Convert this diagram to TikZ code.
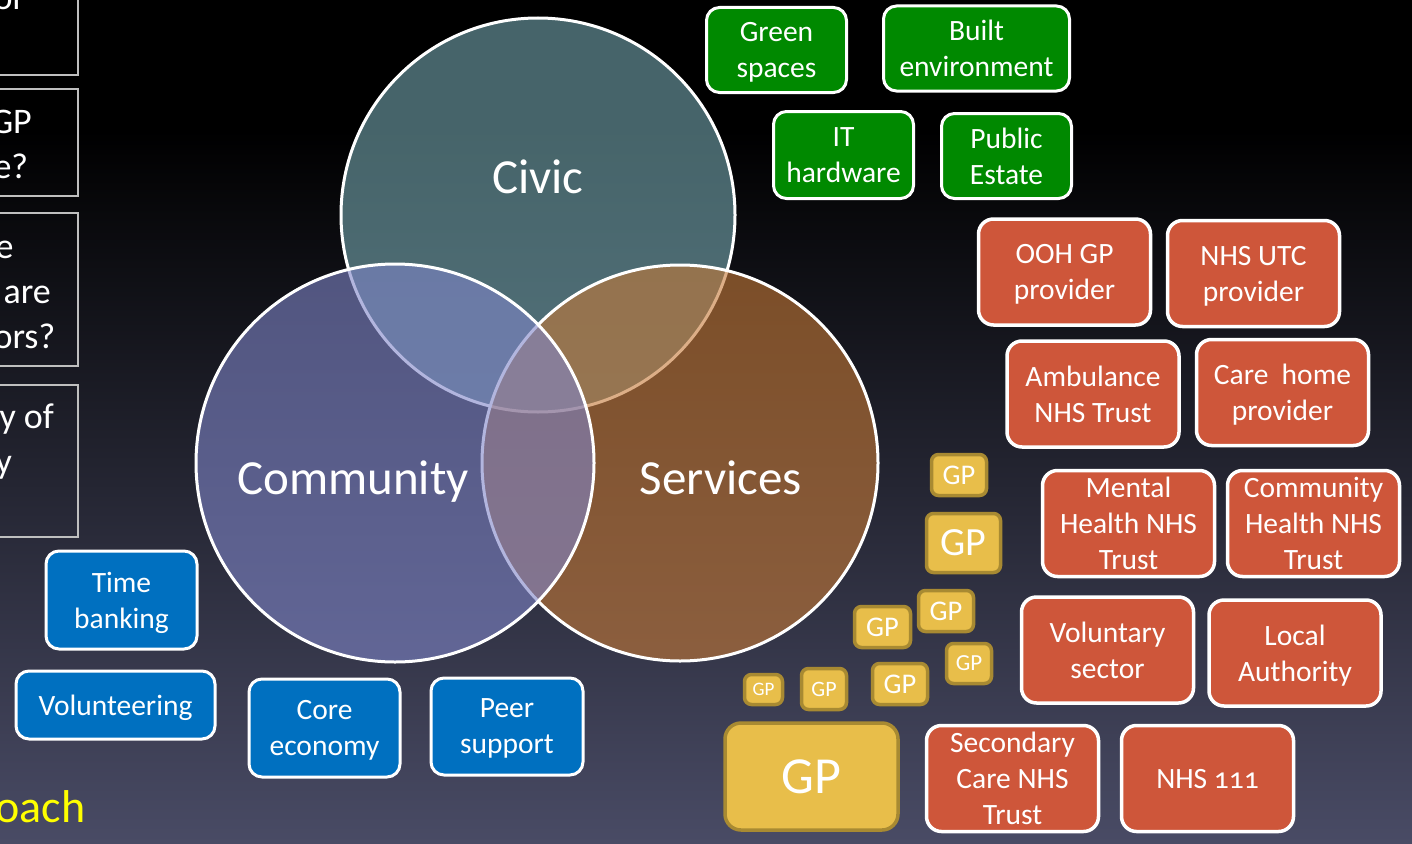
\documentclass[tikz,border=0pt]{standalone}
\usepackage{fontspec}
\setmainfont{Carlito}
\definecolor{bgmid}{RGB}{34,32,57}
\definecolor{bgbot}{RGB}{73,75,101}
\definecolor{civic}{RGB}{118,168,177}
\definecolor{community}{RGB}{127,133,200}
\definecolor{services}{RGB}{197,121,55}
\definecolor{boxgreen}{RGB}{0,137,0}
\definecolor{boxblue}{RGB}{0,112,192}
\definecolor{boxred}{RGB}{206,86,58}
\definecolor{gpfill}{RGB}{232,190,74}
\definecolor{gpedge}{RGB}{168,138,50}
\definecolor{asktext}{RGB}{255,255,0}

\begin{document}
\begin{tikzpicture}[x=1pt,y=-1pt,
  box/.style={draw=white,line width=3pt,rounded corners=13pt,text=white,align=center,inner sep=0pt,text depth=0pt,font=\fontsize{29.5}{36}\selectfont},
  greenbox/.style={box,fill=boxgreen,minimum height=85pt},
  bluebox/.style={box,fill=boxblue},
  redbox/.style={box,fill=boxred,line width=3.5pt,rounded corners=15pt,minimum width=172pt,minimum height=106pt},
  gp/.style={draw=gpedge,fill=gpfill,line width=3.5pt,rounded corners=7pt,text=white,inner sep=0pt},
  ring/.style={draw=white,line width=3pt,fill opacity=.6},
  big/.style={text=white,font=\fontsize{49}{58}\selectfont,anchor=base},
  ask/.style={text=white,align=left,anchor=base west,font=\fontsize{36}{45}\selectfont}]
\useasboundingbox (0,0) rectangle (1412,843);
\clip (0,0) rectangle (1412,843);
\fill[black] (0,0) rectangle (1412,131);
\shade[top color=black,middle color=bgmid,bottom color=bgbot] (0,130) rectangle (1412,843);
% venn
\filldraw[ring,fill=civic] (538,215) circle[radius=197pt];
\filldraw[ring,fill=services] (680,463) circle[radius=198pt];
\filldraw[ring,fill=community] (395,463) circle[radius=199pt];
\node[big] (civic) at (538,193) {Civic};
\node[big] (community) at (353,494) {Community};
\node[big] (services) at (721,494) {Services};
% questions, cut at the left
\foreach \t/\b in {-20/75,89/196,213/366,385/537}
  \draw[lightgray,line width=1.5pt] (-20,\t) rectangle (78,\b);
\node[ask] (q1) at (-10,10) {or};
\node[ask] (q2) at (-13,178) {GP\\\hspace*{3pt}e?};
\node[ask] (q3) at (-10,348) {\hspace*{2pt}e\\\hspace*{10pt}are\\ors?};
\node[ask] (q4) at (-8,473) {\hspace*{4pt}y of\\y};
\node[text=asktext,anchor=base west,font=\fontsize{46}{56}\selectfont] (approach) at (-8,822) {oach};
% civic
\node[greenbox,minimum width=140pt] (green) at (776.5,50) {Green\\spaces};
\node[greenbox,minimum width=186pt] (built) at (976.5,48.5) {Built\\environment};
\node[greenbox,minimum width=140pt,minimum height=87pt] (it) at (843.5,155) {IT\\hardware};
\node[greenbox,minimum width=130pt] (estate) at (1006.5,156) {Public\\Estate};
% services
\node[redbox] (ooh) at (1064.5,272) {OOH GP\\provider};
\node[redbox] (utc) at (1253.5,273.5) {NHS UTC\\provider};
\node[redbox] (ambulance) at (1093,394) {Ambulance\\NHS Trust};
\node[redbox] (carehome) at (1282.5,392.5) {Care\ \ home\\provider};
\node[redbox] (mental) at (1128.5,523.5) {Mental\\Health NHS\\Trust};
\node[redbox] (commhealth) at (1313.5,523.5) {Community\\Health NHS\\Trust};
\node[redbox] (voluntary) at (1107.5,650) {Voluntary\\sector};
\node[redbox] (local) at (1295,653) {Local\\Authority};
\node[redbox] (secondary) at (1012.5,778.5) {Secondary\\Care NHS\\Trust};
\node[redbox] (nhs111) at (1207.5,778.5) {NHS {\addfontfeature{Numbers=OldStyle}111}};
\foreach \n/\x/\y/\w/\h/\s in {1/959/475/55/41/28.5,2/963.5/543/74/59/40,3/946/611/55/41/28.5,
    4/882.5/627/56/41/28.5,5/969/663.5/45/40/23,6/900/684/55/41/28.5,7/824/689/45/41/22,8/763.5/689.5/38/30/19}
  \node[gp,minimum width=\w pt,minimum height=\h pt,font=\fontsize{\s}{\s}\selectfont] (gp\n) at (\x,\y) {GP};
\node[gp,rounded corners=16pt,minimum width=173pt,minimum height=107pt,font=\fontsize{52}{60}\selectfont] (gp9) at (811.5,776.5) {GP};
% community
\node[bluebox,minimum width=151pt,minimum height=98pt] (timebank) at (121.5,600) {Time\\banking};
\node[bluebox,minimum width=199pt,minimum height=68pt] (volunteer) at (115.5,705) {Volunteering};
\node[bluebox,minimum width=151pt,minimum height=98pt] (core) at (324.5,728) {Core\\economy};
\node[bluebox,minimum width=152pt,minimum height=97pt] (peer) at (507,726.5) {Peer\\support};
\end{tikzpicture}
\end{document}
